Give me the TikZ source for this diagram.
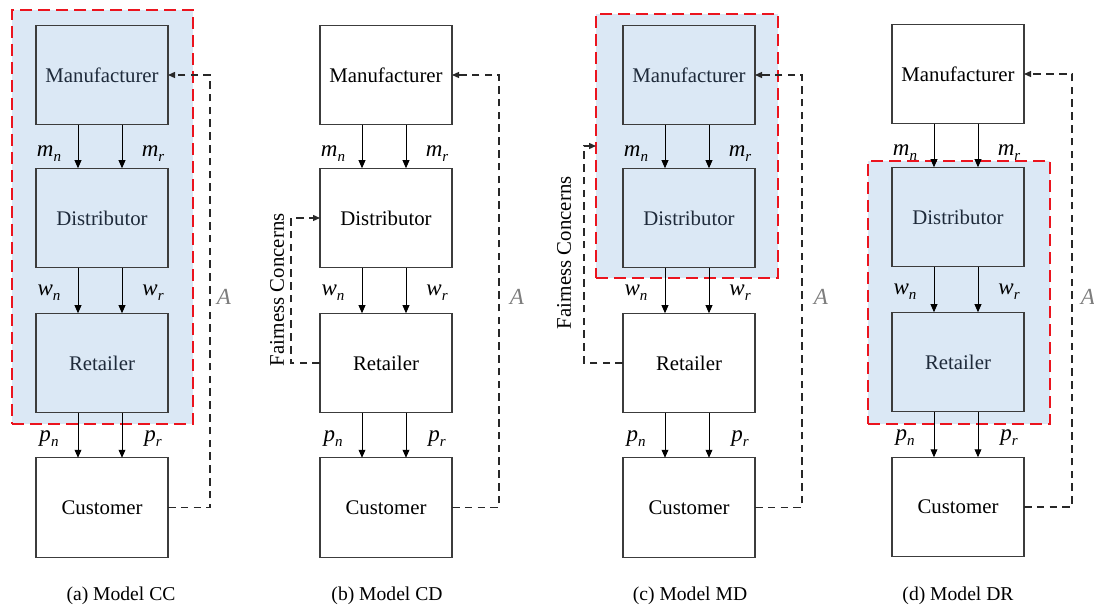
\documentclass[tikz,border=0pt]{standalone}
\usepackage{fontspec}
\setmainfont{Liberation Serif}
\newfontfamily\tnr{Liberation Serif}
\usetikzlibrary{arrows.meta,calc}
\definecolor{boxblue}{RGB}{219,232,245}
\definecolor{edgegrey}{RGB}{60,60,60}
\definecolor{dashgrey}{RGB}{40,40,40}
\definecolor{agrey}{RGB}{125,125,125}
\definecolor{grpred}{RGB}{235,20,30}
\definecolor{slate}{RGB}{30,42,58}
\newcommand\sv[2]{{\tnr\itshape #1}\raisebox{-0.5ex}{\tnr\fontsize{7.5}{8}\selectfont\itshape #2}}
\begin{document}
\begin{tikzpicture}[x=0.5pt,y=-0.5pt,
  agent/.style={draw=edgegrey, line width=0.6pt, minimum width=66pt, minimum height=49.75pt,
    inner sep=0pt, outer sep=0pt, fill=white, font=\tnr\fontsize{10.4}{12}\selectfont},
  shaded/.style={fill=boxblue, text=slate},
  grp/.style={draw=grpred, line width=1.2pt, dash pattern=on 6pt off 3pt, fill=boxblue,
    inner sep=0pt, outer sep=0pt},
  flow/.style={-{Triangle[length=4pt,width=3.4pt]}, line width=0.5pt, draw=black},
  fb/.style={-{Triangle[length=3.5pt,width=3pt]}, line width=0.65pt, draw=dashgrey,
    dash pattern=on 3.8pt off 2.6pt},
  lab/.style={inner sep=0pt, font=\tnr\fontsize{11.5}{13}\selectfont},
  alab/.style={inner sep=0pt, text=agrey, font=\tnr\fontsize{11.5}{13}\selectfont\itshape},
  fc/.style={inner sep=0pt, rotate=90, font=\tnr\fontsize{10.4}{12}\selectfont},
  captext/.style={inner sep=0pt, font=\tnr\fontsize{9.8}{12}\selectfont},
]
\useasboundingbox (0,0) rectangle (1094,610);

% ---------- group frames ----------
\node[grp, minimum width=90.5pt, minimum height=207pt] (Ga) at (102.5,217) {};
\node[grp, minimum width=91pt, minimum height=132pt] (Gc) at (687,146) {};
\node[grp, minimum width=91pt, minimum height=131.5pt] (Gd) at (959,292.5) {};

% ---------- panel (a) ----------
\node[agent, shaded] (Ma) at (102,75) {Manufacturer};
\node[agent, shaded] (Da) at (102,218) {Distributor};
\node[agent, shaded] (Ra) at (102,363) {Retailer};
\node[agent] (Ca) at (102,507.5) {Customer};
% ---------- panel (b) ----------
\node[agent] (Mb) at (386,75) {Manufacturer};
\node[agent] (Db) at (386,218) {Distributor};
\node[agent] (Rb) at (386,363) {Retailer};
\node[agent] (Cb) at (386,507.5) {Customer};
% ---------- panel (c) ----------
\node[agent, shaded] (Mc) at (689,75) {Manufacturer};
\node[agent, shaded] (Dc) at (689,218) {Distributor};
\node[agent] (Rc) at (689,363) {Retailer};
\node[agent] (Cc) at (689,507.5) {Customer};
% ---------- panel (d) ----------
\node[agent] (Md) at (958,74) {Manufacturer};
\node[agent, shaded] (Dd) at (958,217) {Distributor};
\node[agent, shaded] (Rd) at (958,362) {Retailer};
\node[agent] (Cd) at (958,507) {Customer};

% ---------- flows and labels ----------
\foreach \p in {a,b,c,d}{
  \draw[flow] ($(M\p.south)+(-24,0)$) -- ($(D\p.north)+(-24,0)$);
  \draw[flow] ($(M\p.south)+(20,0)$) -- ($(D\p.north)+(20,0)$);
  \draw[flow] ($(D\p.south)+(-24,0)$) -- ($(R\p.north)+(-24,0)$);
  \draw[flow] ($(D\p.south)+(20,0)$) -- ($(R\p.north)+(20,0)$);
  \draw[flow] ($(R\p.south)+(-24,0)$) -- ($(C\p.north)+(-24,0)$);
  \draw[flow] ($(R\p.south)+(20,0)$) -- ($(C\p.north)+(20,0)$);
  \node[lab] (mn\p) at ($(M\p.south)+(-53,29)$) {\sv{m}{n}};
  \node[lab] (mr\p) at ($(M\p.south)+(51,29)$) {\sv{m}{r}};
  \node[lab] (wn\p) at ($(D\p.south)+(-53,25)$) {\sv{w}{n}};
  \node[lab] (wr\p) at ($(D\p.south)+(51,25)$) {\sv{w}{r}};
  \node[lab] (pn\p) at ($(R\p.south)+(-53,26)$) {\sv{p}{n}};
  \node[lab] (pr\p) at ($(R\p.south)+(51,26)$) {\sv{p}{r}};
}

% ---------- feedback A ----------
\coordinate (Aa) at (210,0);
\coordinate (Ab) at (499,0);
\coordinate (Ac) at (802,0);
\coordinate (Ad) at (1072,0);
\foreach \p in {a,b,c,d}{
  \draw[fb] (C\p.east) -- (C\p.east -| A\p) -- (M\p.east -| A\p) -- (M\p.east);
}
\node[alab] (la) at (224,297) {A};
\node[alab] (lb) at (517,297) {A};
\node[alab] (lc) at (821,297) {A};
\node[alab] (ld) at (1088,297) {A};

% ---------- fairness concerns ----------
\coordinate (Fb) at (291,0);
\coordinate (Fc) at (584,0);
\draw[fb] (Rb.west) -- (Rb.west -| Fb) -- (Db.west -| Fb) -- (Db.west);
\draw[fb] (Rc.west) -- (Rc.west -| Fc) -- (Gc.west -| Fc) -- (Gc.west);
\node[fc] (fcb) at (277,290) {Fairness Concerns};
\node[fc] (fcc) at (564,253) {Fairness Concerns};

% ---------- captions ----------
\node[captext] (capa) at (121,596) {(a) Model CC};
\node[captext] (capb) at (387,596) {(b) Model CD};
\node[captext] (capc) at (690,596) {(c) Model MD};
\node[captext] (capd) at (958,596) {(d) Model DR};
\end{tikzpicture}
\end{document}
